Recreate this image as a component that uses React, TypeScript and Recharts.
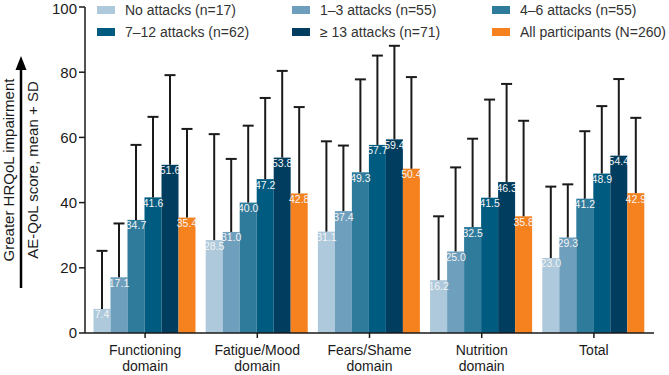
import React from 'react';
import { BarChart, Bar, XAxis, YAxis, LabelList } from 'recharts';

// domains on the x axis
const categories = [
  'Functioning domain',
  'Fatigue/Mood domain',
  'Fears/Shame domain',
  'Nutrition domain',
  'Total',
];

// mean AE-QoL scores per attack group
const noAttacks = [7.4, 28.5, 31.1, 16.2, 23.0];
const attacks1to3 = [17.1, 31.0, 37.4, 25.0, 29.3];
const attacks4to6 = [34.7, 40.0, 49.3, 32.5, 41.2];
const attacks7to12 = [41.6, 47.2, 57.7, 41.5, 48.9];
const attacks13plus = [51.6, 53.8, 59.4, 46.3, 54.4];
const allParticipants = [35.4, 42.8, 50.4, 35.8, 42.9];

// standard deviations (upper whisker only)
const sdNoAttacks = [17.8, 32.5, 27.7, 19.6, 21.9];
const sd1to3 = [16.5, 22.4, 20.1, 25.8, 16.3];
const sd4to6 = [23.0, 23.6, 28.5, 27.1, 20.7];
const sd7to12 = [24.7, 24.9, 27.4, 30.1, 20.7];
const sd13plus = [27.5, 26.6, 28.7, 30.1, 23.5];
const sdAll = [27.2, 26.5, 28.1, 29.3, 23.1];

const yTicks = [0, 20, 40, 60, 80, 100];

const series = [
  { key: 's0', sd: 'e0', name: 'No attacks (n=17)', color: '#adc9db', values: noAttacks, sds: sdNoAttacks },
  { key: 's1', sd: 'e1', name: '1–3 attacks (n=55)', color: '#6e9fbd', values: attacks1to3, sds: sd1to3 },
  { key: 's2', sd: 'e2', name: '4–6 attacks (n=55)', color: '#2e7b9c', values: attacks4to6, sds: sd4to6 },
  { key: 's3', sd: 'e3', name: '7–12 attacks (n=62)', color: '#005b80', values: attacks7to12, sds: sd7to12 },
  { key: 's4', sd: 'e4', name: '≥ 13 attacks (n=71)', color: '#003d5e', values: attacks13plus, sds: sd13plus },
  { key: 's5', sd: 'e5', name: 'All participants (N=260)', color: '#f5821f', values: allParticipants, sds: sdAll },
];

const data = categories.map((name, i) => {
  const row: any = { name };
  series.forEach((s) => {
    row[s.key] = s.values[i];
    row[s.sd] = s.sds[i];
  });
  return row;
});

const FONT = '"Liberation Sans", Arial, sans-serif';
const INK = '#1a1a1a';

// bar with an upward-only SD whisker
const barWithError = (sdKey: string) => (props: any) => {
  const { x, y, width, height, fill, payload, value } = props;
  const v = Array.isArray(value) ? value[1] - value[0] : value;
  const perUnit = v ? height / v : 0;
  const top = y - payload[sdKey] * perUnit;
  const cx = x + width / 2;
  return (
    <g>
      <rect x={x} y={y} width={width} height={height} fill={fill} />
      <line x1={cx} y1={y} x2={cx} y2={top} stroke={INK} strokeWidth={2} />
      <line x1={cx - 5.5} y1={top} x2={cx + 5.5} y2={top} stroke={INK} strokeWidth={2} />
    </g>
  );
};

const XTick = (props: any) => {
  const { x, y, payload } = props;
  const words = String(payload.value).split(' ');
  const lines = words.length > 1 ? [words.slice(0, -1).join(' '), words[words.length - 1]] : words;
  return (
    <text x={x} y={y} textAnchor="middle" fill={INK} fontSize={14} fontFamily={FONT}>
      {lines.map((l, i) => (
        <tspan key={i} x={x} dy={i === 0 ? 15 : 16}>
          {l}
        </tspan>
      ))}
    </text>
  );
};

const YLabel = () => (
  <g fill={INK} fontSize={15} fontFamily={FONT}>
    <text transform="translate(14, 170) rotate(-90)" textAnchor="middle">
      Greater HRQoL impairment
    </text>
    <text transform="translate(38, 170) rotate(-90)" textAnchor="middle">
      AE-QoL score, mean + SD
    </text>
    <line x1={21} y1={288} x2={21} y2={68} stroke="#000" strokeWidth={2.5} />
    <polygon points="21,56 15.5,70 26.5,70" fill="#000" />
  </g>
);

const legendCols = [97, 292, 492];
const legendRows = [10, 32];

export default function App() {
  return (
    <div style={{ position: 'absolute', left: 0, top: 0, width: 669, height: 375, background: '#fff', overflow: 'hidden' }}>
      <BarChart
        width={669}
        height={375}
        data={data}
        margin={{ top: 7, right: 15, left: 0, bottom: 0 }}
        barCategoryGap={4.5}
        barGap={0}
      >
        <XAxis
          dataKey="name"
          height={42}
          padding={{ left: 4, right: 4 }}
          axisLine={{ stroke: INK, strokeWidth: 1.5 }}
          tickLine={{ stroke: INK, strokeWidth: 1.5 }}
          tickSize={5}
          tick={<XTick />}
          interval={0}
        />
        <YAxis
          width={85}
          domain={[0, 100]}
          ticks={yTicks}
          axisLine={{ stroke: INK, strokeWidth: 1.5 }}
          tickLine={{ stroke: INK, strokeWidth: 1.5 }}
          tickSize={6}
          tick={{ fill: INK, fontSize: 15, fontFamily: FONT }}
          label={<YLabel />}
        />
        {series.map((s) => (
          <Bar
            key={s.key}
            dataKey={s.key}
            name={s.name}
            fill={s.color}
            isAnimationActive={false}
            shape={barWithError(s.sd)}
          >
            <LabelList
              dataKey={s.key}
              position="insideTop"
              offset={2}
              fill="#f4f4f4"
              fontSize={10.5}
              fontFamily={FONT}
              formatter={(v: any) => Number(v).toFixed(1)}
            />
          </Bar>
        ))}
      </BarChart>
      {series.map((s, i) => (
        <div
          key={s.key}
          style={{
            position: 'absolute',
            left: legendCols[i % 3],
            top: legendRows[Math.floor(i / 3)] - 9,
            height: 18,
            display: 'flex',
            alignItems: 'center',
            fontFamily: FONT,
            fontSize: 14,
            color: '#333',
            whiteSpace: 'nowrap',
          }}
        >
          <span style={{ display: 'inline-block', width: 18, height: 8, background: s.color, marginRight: 10 }} />
          {s.name}
        </div>
      ))}
    </div>
  );
}
